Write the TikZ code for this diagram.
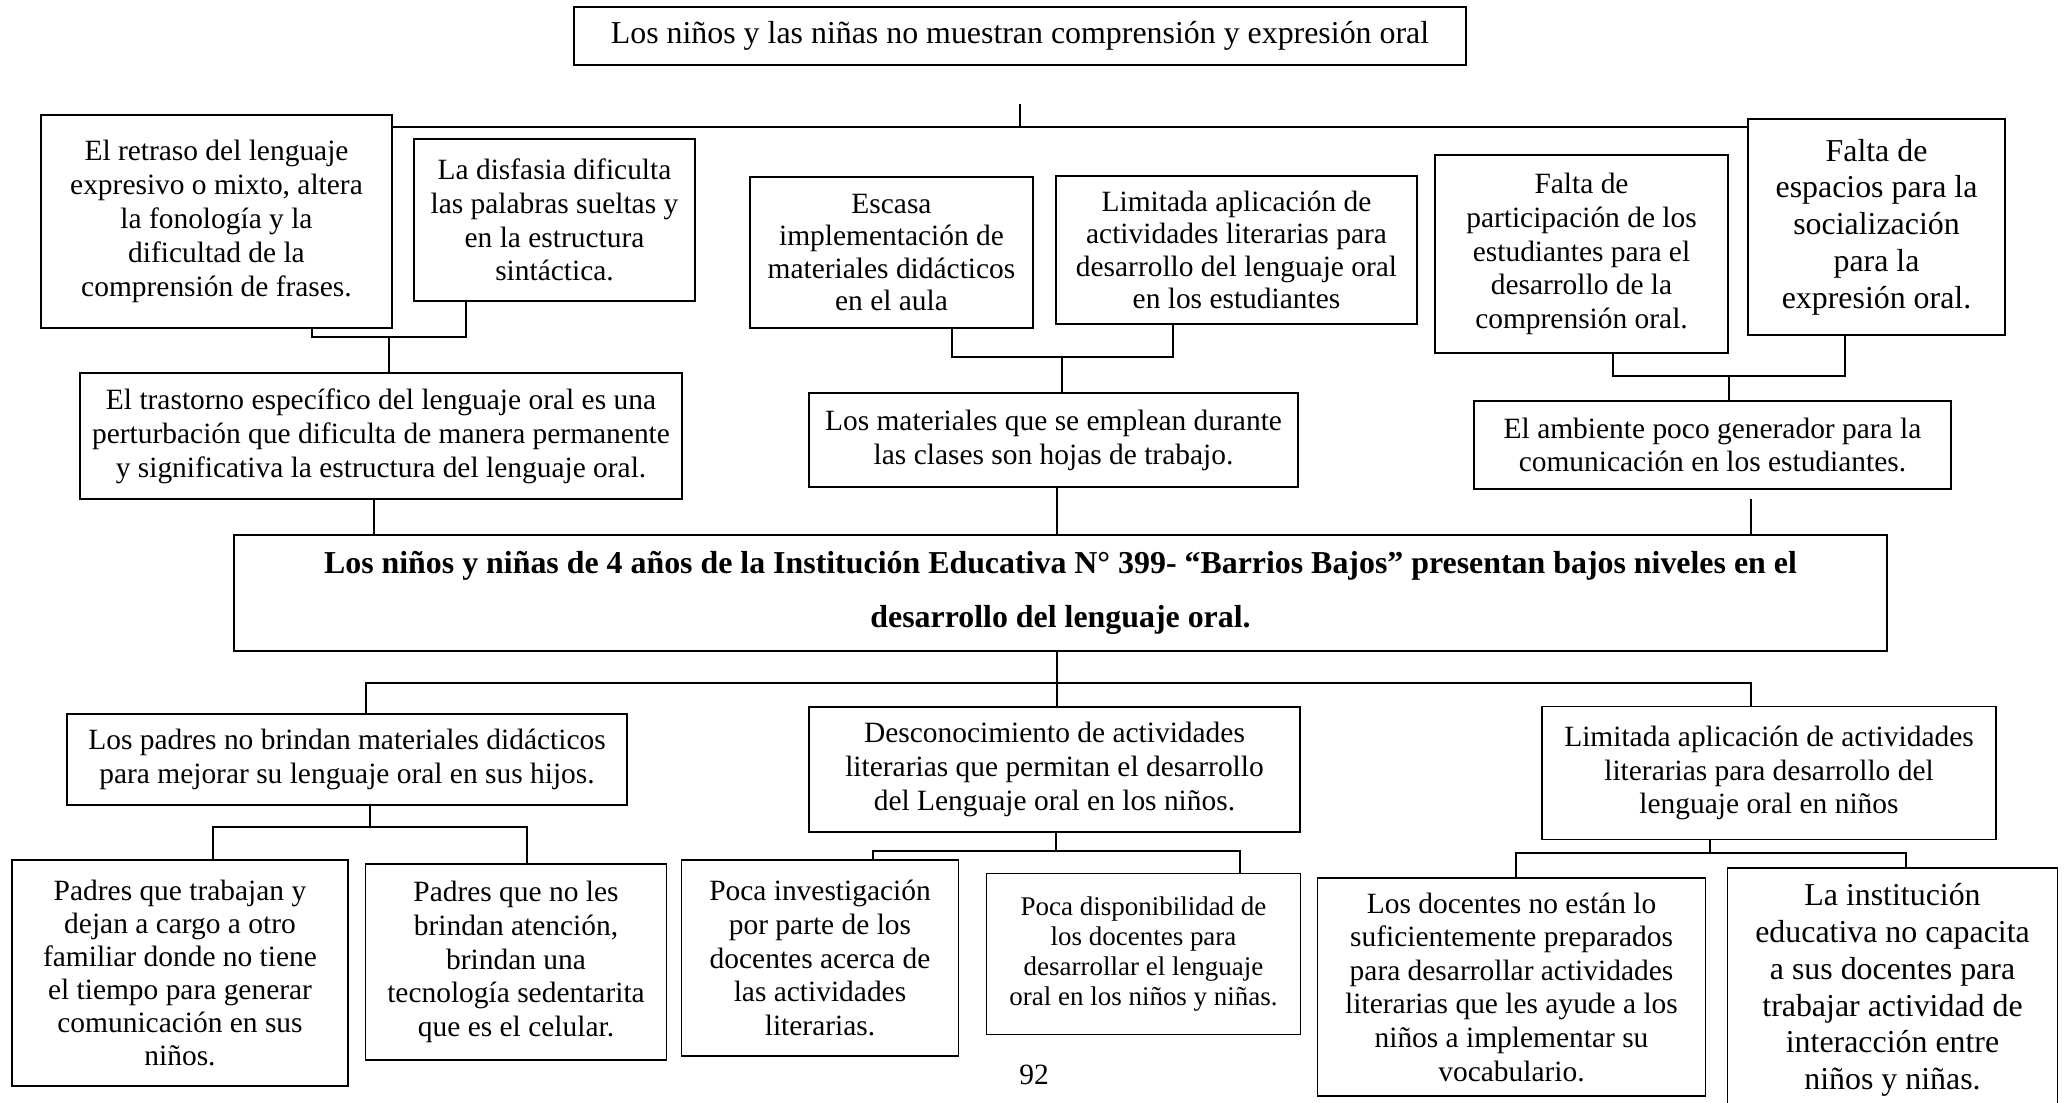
\documentclass[tikz,border=0pt]{standalone}
\usepackage{fontspec}
\setmainfont{Liberation Serif}
\usepackage{tikz}
\usetikzlibrary{calc, positioning}

\begin{document}
\begin{tikzpicture}[x=0.4077pt, y=-0.4077pt,
        boxSize/.style 2 args={minimum width=#1*0.4077pt, minimum height=#2*0.4077pt},
        boxThick/.style={draw, line width=0.8pt, align=center, inner sep=0pt, font=\fontsize{12}{13.8}\selectfont},
        boxThin/.style={draw, line width=0.45pt, align=center, inner sep=0pt, font=\fontsize{12}{13.8}\selectfont},
        thinLine/.style={line width=0.45pt}]
        \useasboundingbox[fill=white] (0,0) rectangle (2065,1102);

        % efectos
        \node[boxThick, boxSize={892}{58}, font=\fontsize{13}{15}\selectfont] (tProb) at (1020,36)
            {Los niños y las niñas no muestran comprensión y expresión oral};
        \node[boxThick, boxSize={351}{213}] (cA1) at (216.5,221.5)
            {El retraso del lenguaje\\expresivo o mixto, altera\\la fonología y la\\dificultad de la\\comprensión de frases.};
        \node[boxThick, boxSize={281}{162}] (cA2) at (554.5,220)
            {La disfasia dificulta\\las palabras sueltas y\\en la estructura\\sintáctica.};
        \node[boxThin, boxSize={602}{126}] (cA3) at (381,436)
            {El trastorno específico del lenguaje oral es una\\perturbación que dificulta de manera permanente\\y significativa la estructura del lenguaje oral.};
        \node[boxThick, boxSize={283}{151}, font=\fontsize{12}{13.2}\selectfont] (cB1) at (891.5,252.5)
            {Escasa\\implementación de\\materiales didácticos\\en el aula};
        \node[boxThick, boxSize={361}{148}, font=\fontsize{12}{13.2}\selectfont] (cB2) at (1236.5,250)
            {Limitada aplicación de\\actividades literarias para\\desarrollo del lenguaje oral\\en los estudiantes};
        \node[boxThin, boxSize={489}{94}] (cB3) at (1053.5,440)
            {Los materiales que se emplean durante\\las clases son hojas de trabajo.};
        \node[boxThick, boxSize={293}{198}] (cC1) at (1581.5,254)
            {Falta de\\participación de los\\estudiantes para el\\desarrollo de la\\comprensión oral.};
        \node[boxThick, boxSize={257}{216}, font=\fontsize{13}{15}\selectfont] (cC2) at (1876.5,227)
            {Falta de\\espacios para la\\socialización\\para la\\expresión oral.};
        \node[boxThin, boxSize={477}{88}] (cC3) at (1712.5,445)
            {El ambiente poco generador para la\\comunicación en los estudiantes.};

        % problema central
        \node[boxThick, boxSize={1653}{116}, font=\fontsize{13}{22}\selectfont\bfseries] (cMain) at (1060.5,593)
            {Los niños y niñas de 4 años de la Institución Educativa N° 399- “Barrios Bajos” presentan bajos niveles en el\\desarrollo del lenguaje oral.};

        % causas
        \node[boxThin, boxSize={560}{91}] (cD1) at (347,759.5)
            {Los padres no brindan materiales didácticos\\para mejorar su lenguaje oral en sus hijos.};
        \node[boxThin, boxSize={491}{125}] (cD2) at (1054.5,769.5)
            {Desconocimiento de actividades\\literarias que permitan el desarrollo\\del Lenguaje oral en los niños.};
        \node[boxThin, boxSize={454}{133}] (cD3) at (1769,773)
            {Limitada aplicación de actividades\\literarias para desarrollo del\\lenguaje oral en niños};
        \node[boxThin, boxSize={336}{226}, font=\fontsize{12}{13.5}\selectfont] (cE1) at (180,973)
            {Padres que trabajan y\\dejan a cargo a otro\\familiar donde no tiene\\el tiempo para generar\\comunicación en sus\\niños.};
        \node[boxThin, boxSize={301}{196}, font=\fontsize{12}{13.7}\selectfont] (cE2) at (516,962)
            {Padres que no les\\brindan atención,\\brindan una\\tecnología sedentarita\\que es el celular.};
        \node[boxThin, boxSize={277}{196}, font=\fontsize{12}{13.7}\selectfont] (cE3) at (820,958)
            {Poca investigación\\por parte de los\\docentes acerca de\\las actividades\\literarias.};
        \node[boxThin, boxSize={314}{161}, font=\fontsize{11}{12.2}\selectfont] (cE4) at (1143.5,954)
            {Poca disponibilidad de\\los docentes para\\desarrollar el lenguaje\\oral en los niños y niñas.};
        \node[boxThin, boxSize={388}{218}, font=\fontsize{12}{13.7}\selectfont] (cE5) at (1511.5,987)
            {Los docentes no están lo\\suficientemente preparados\\para desarrollar actividades\\literarias que les ayude a los\\niños a implementar su\\vocabulario.};
        \node[boxThin, boxSize={330}{244}, font=\fontsize{13}{15}\selectfont] (cE6) at (1892.5,990)
            {La institución\\educativa no capacita\\a sus docentes para\\trabajar actividad de\\interacción entre\\niños y niñas.};
        \node[font=\fontsize{12}{14}\selectfont] (pNum) at (1034,1075) {92};

        % puntos de union
        \coordinate (pTop) at (1020,127);
        \coordinate (pcA1) at (312,337);
        \coordinate (pcA2) at (466,337);
        \coordinate (pcA3) at (389,337);
        \coordinate (pcB1) at (952,357);
        \coordinate (pcB2) at (1173,357);
        \coordinate (pcB3) at (1062,357);
        \coordinate (pcC1) at (1613,376);
        \coordinate (pcC2) at (1845,376);
        \coordinate (pcC3) at (1729,376);
        \coordinate (xA) at (374,0);
        \coordinate (xB) at (1057,0);
        \coordinate (xC) at (1751,0);
        \coordinate (xD) at (366,0);
        \coordinate (pMain) at (1057,683);
        \coordinate (pcD1) at (370,827);
        \coordinate (pcE1) at (213,827);
        \coordinate (pcE2) at (527,827);
        \coordinate (pcD2) at (1056,851);
        \coordinate (pcE3) at (873,851);
        \coordinate (pcE4) at (1240,851);
        \coordinate (pcD3) at (1710,853);
        \coordinate (pcE5) at (1516,853);
        \coordinate (pcE6) at (1906,853);

        \draw[thinLine, shorten <=15.5pt] (tProb.south) -- (pTop);
        \draw[thinLine] (cA1.east |- pTop) -- (cC2.west |- pTop);
        \foreach \l/\r/\b in {cA1/cA2/cA3, cB1/cB2/cB3, cC1/cC2/cC3}
        {
            \draw[thinLine] (\l.south -| p\l) -- (p\l) -- (p\r) -- (\r.south -| p\r);
            \draw[thinLine] (p\b) -- (\b.north -| p\b);
        };
        \draw[thinLine] (cA3.south -| xA) -- (cMain.north -| xA);
        \draw[thinLine] (cB3.south -| xB) -- (cMain.north -| xB);
        \draw[thinLine, shorten <=3.7pt] (cC3.south -| xC) -- (cMain.north -| xC);

        \draw[line width=0.7pt] (cMain.south -| xB) -- (pMain);
        \draw[thinLine] (cD1.north -| xD) |- (pMain) -| (cD3.north -| xC);
        \draw[thinLine] (pMain) -- (cD2.north -| xB);
        \foreach \t/\l/\r in {cD1/cE1/cE2, cD2/cE3/cE4, cD3/cE5/cE6}
        {
            \draw[thinLine] (\t.south -| p\t) -- (p\t);
            \draw[thinLine] (\l.north -| p\l) -- (p\l) -- (p\r) -- (\r.north -| p\r);
        };
\end{tikzpicture}
\end{document}
